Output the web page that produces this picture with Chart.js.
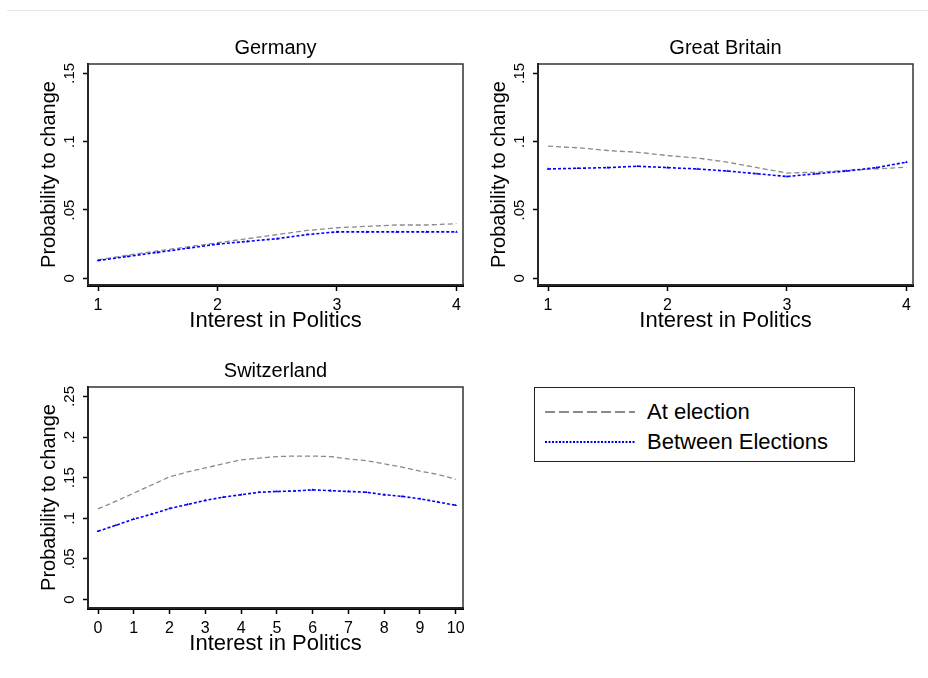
<!DOCTYPE html>
<html lang="en">
<head>
  <meta charset="UTF-8">
  <title>Probability to change by interest in politics</title>
  <script src="https://cdn.jsdelivr.net/npm/chart.js"></script>
  <style>
    body {
      margin: 0;
      background: #fff;
      font-family: "Liberation Sans", Arial, sans-serif;
    }
    .topline {
      position: absolute;
      left: 7px;
      top: 10px;
      width: 921px;
      height: 1px;
      background: #e4eaea;
    }
    canvas {
      position: absolute;
    }
    #legende {
      position: absolute;
      left: 534px;
      top: 387px;
      width: 319px;
      height: 73px;
      border: 1.5px solid #222;
      font-size: 22px;
      color: #000;
    }
    .ligne {
      position: absolute;
      left: 10px;
      height: 30px;
      display: flex;
      align-items: center;
    }
    .ligne svg {
      margin-right: 12px;
    }
  </style>
</head>
<body>
  <div class="topline"></div>
  <canvas id="germany" width="440" height="309" style="left:30px;top:30px"></canvas>
  <canvas id="britain" width="440" height="309" style="left:480px;top:30px"></canvas>
  <canvas id="switzerland" width="440" height="309" style="left:30px;top:353px"></canvas>

  <div id="legende">
    <div class="ligne" style="top:9px">
      <svg width="90" height="6"><line x1="0" y1="3" x2="90" y2="3" stroke="#8a8a8a" stroke-width="2.2" stroke-dasharray="10,4"/></svg>
      <span>At election</span>
    </div>
    <div class="ligne" style="top:39px">
      <svg width="90" height="6"><line x1="0" y1="3" x2="90" y2="3" stroke="#0000ff" stroke-width="2" stroke-dasharray="2,1.5"/></svg>
      <span>Between Elections</span>
    </div>
  </div>

  <script>
    // Interest in politics, 1-4 (Germany, Great Britain)
    const interet4 = [1, 1.25, 1.5, 1.75, 2, 2.25, 2.5, 2.75, 3, 3.25, 3.5, 3.75, 4];
    const germanyAt = [.0135, .017, .020, .023, .026, .029, .032, .035, .037, .038, .039, .039, .040];
    const germanyBetween = [.013, .016, .019, .022, .025, .027, .029, .032, .034, .034, .034, .034, .034];
    const britainAt = [.0967, .0955, .0935, .0922, .0898, .088, .085, .081, .077, .0776, .079, .080, .0813];
    const britainBetween = [.080, .0805, .081, .082, .081, .080, .0785, .0765, .0745, .0765, .0785, .081, .085];

    // Interest in politics, 0-10 (Switzerland)
    const interet10 = [0, .5, 1, 1.5, 2, 2.5, 3, 3.5, 4, 4.5, 5, 5.5, 6, 6.5, 7, 7.5, 8, 8.5, 9, 9.5, 10];
    const swissAt = [.1115, .121, .131, .141, .151, .157, .162, .167, .172, .174, .176, .1766, .1766, .176, .173, .171, .167, .163, .158, .154, .148];
    const swissBetween = [.084, .0914, .099, .105, .112, .117, .122, .126, .129, .132, .133, .1336, .135, .134, .133, .132, .129, .127, .124, .120, .116];

    const ticksX4 = [1, 2, 3, 4];
    const ticksX10 = [0, 1, 2, 3, 4, 5, 6, 7, 8, 9, 10];
    const ticksY15 = [0, .05, .1, .15];
    const ticksY25 = [0, .05, .1, .15, .2, .25];

    const police = '"Liberation Sans", Arial, sans-serif';

    // cadre du graphique (haut et droite)
    const cadre = {
      id: 'cadre',
      afterDraw(chart) {
        const a = chart.chartArea;
        const ctx = chart.ctx;
        ctx.save();
        ctx.strokeStyle = '#333';
        ctx.lineWidth = 1.5;
        ctx.strokeRect(a.left, a.top, a.right - a.left, a.bottom - a.top);
        ctx.restore();
      }
    };

    function points(xs, ys) {
      return xs.map((x, i) => ({x: x, y: ys[i]}));
    }

    function etiquette(v) {
      return v === 0 ? '0' : String(v).replace(/^0/, '');
    }

    function graphique(id, titre, xs, at, between, tx, ty, xmin, xmax, ymin, ymax) {
      new Chart(document.getElementById(id), {
        type: 'line',
        data: {
          datasets: [
            {
              label: 'At election',
              data: points(xs, at),
              borderColor: '#8a8a8a',
              borderWidth: 1.3,
              borderDash: [5, 3],
              pointRadius: 0,
              order: 2
            },
            {
              label: 'Between Elections',
              data: points(xs, between),
              borderColor: '#0000ff',
              borderWidth: 1.6,
              borderDash: [3, 2],
              pointStyle: 'triangle',
              pointRadius: 1.6,
              pointBorderWidth: 0,
              pointBackgroundColor: '#0000ff',
              order: 1
            }
          ]
        },
        options: {
          responsive: false,
          animation: false,
          layout: {padding: {left: 0, right: 7, top: 0, bottom: 0}},
          plugins: {
            legend: {display: false},
            tooltip: {enabled: false},
            title: {
              display: true,
              text: titre,
              fullSize: false,
              color: '#000',
              font: {family: police, size: 20, weight: 'normal', lineHeight: 1},
              padding: {top: 8, bottom: 6}
            }
          },
          scales: {
            x: {
              type: 'linear',
              min: xmin,
              max: xmax,
              afterBuildTicks: s => { s.ticks = tx.map(v => ({value: v})); },
              afterFit: s => { s.height = 54; },
              grid: {display: true, drawOnChartArea: false, tickLength: 6, tickColor: '#000', tickWidth: 1.5},
              border: {display: true, color: '#000', width: 3},
              ticks: {
                color: '#000',
                padding: 5,
                maxRotation: 0,
                font: {family: police, size: 16},
                callback: v => String(v)
              },
              title: {
                display: true,
                text: 'Interest in Politics',
                color: '#000',
                font: {family: police, size: 22, lineHeight: 1},
                padding: {top: 0, bottom: 7}
              }
            },
            y: {
              type: 'linear',
              min: ymin,
              max: ymax,
              afterBuildTicks: s => { s.ticks = ty.map(v => ({value: v})); },
              afterFit: s => { s.width = 58; },
              grid: {display: true, drawOnChartArea: false, tickLength: 5, tickColor: '#000', tickWidth: 1.5},
              border: {display: true, color: '#000', width: 2},
              ticks: {
                color: '#000',
                padding: 3,
                minRotation: 90,
                maxRotation: 90,
                crossAlign: 'center',
                font: {family: police, size: 15},
                callback: v => etiquette(v)
              },
              title: {
                display: true,
                text: 'Probability to change',
                color: '#000',
                font: {family: police, size: 20, lineHeight: 1},
                padding: {top: 9, bottom: 0}
              }
            }
          }
        },
        plugins: [cadre]
      });
    }

    graphique('germany', 'Germany', interet4, germanyAt, germanyBetween, ticksX4, ticksY15, 0.916, 4.055, -0.0049, 0.1568);
    graphique('britain', 'Great Britain', interet4, britainAt, britainBetween, ticksX4, ticksY15, 0.916, 4.055, -0.0049, 0.1568);
    graphique('switzerland', 'Switzerland', interet10, swissAt, swissBetween, ticksX10, ticksY25, -0.28, 10.204, -0.01045, 0.2616);
  </script>
</body>
</html>
